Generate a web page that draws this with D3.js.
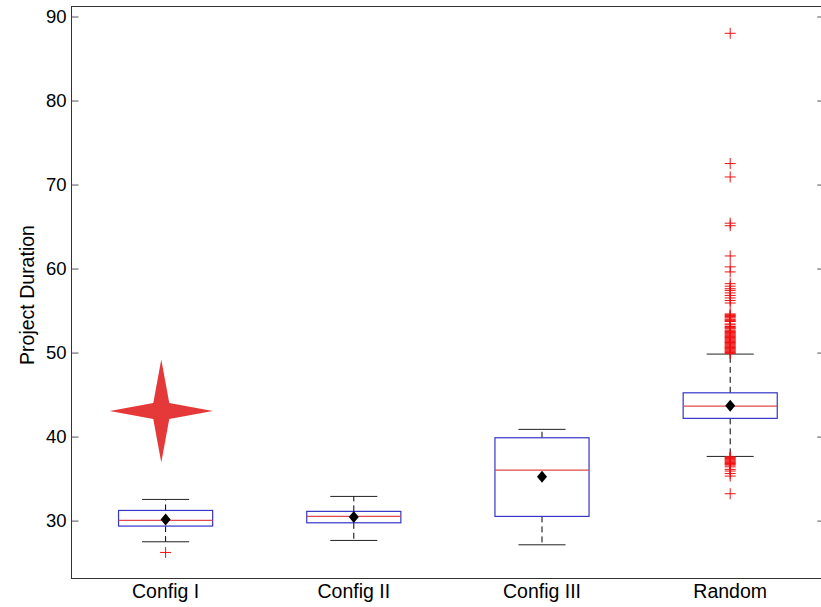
<!DOCTYPE html>
<html>
<head>
<meta charset="utf-8">
<script src="https://cdn.jsdelivr.net/npm/d3@7/dist/d3.min.js"></script>
<style>
  html, body { margin: 0; padding: 0; background: #fff; }
  svg { display: block; font-family: "Liberation Sans", Arial, sans-serif; }
</style>
</head>
<body>
<svg id="chart" width="821" height="607"></svg>
<script>
// ---- data ----
const categories = ["Config I", "Config II", "Config III", "Random"];
const whiskerLow  = [27.48, 27.64, 27.12, 37.64];
const q1          = [29.35, 29.74, 30.50, 42.17];
const medians     = [30.02, 30.50, 36.01, 43.63];
const q3          = [31.21, 31.10, 39.86, 45.21];
const whiskerHigh = [32.52, 32.88, 40.86, 49.82];
const means       = [30.14, 30.42, 35.21, 43.68];
const outliersConfigI = [26.21];
const outliersConfigII = [];
const outliersConfigIII = [];
const outliersRandom = [
  88.0, 72.5, 70.9, 65.4, 65.1, 61.5, 60.2, 59.6,
  58.2, 57.9, 57.6, 57.4, 57.1, 56.8, 56.5, 56.2, 55.9,
  54.6, 54.5, 54.4, 54.3, 54.2, 54.0, 53.9, 53.8, 53.7, 53.4, 53.3, 53.1, 53.0, 52.9, 52.8,
  52.6, 52.5, 52.4, 52.3, 52.2, 52.1, 52.0, 51.9, 51.8, 51.7, 51.6, 51.5, 51.4, 51.3, 51.2, 51.1,
  51.0, 50.9, 50.8, 50.7, 50.6, 50.5, 50.4, 50.3, 50.2, 50.1, 50.0, 49.9,
  37.6, 37.5, 37.4, 37.3, 37.2, 37.1, 37.0, 36.9, 36.8, 36.7, 36.6,
  36.4, 36.1, 35.9, 35.6, 35.3, 33.2
];
const outliers = [outliersConfigI, outliersConfigII, outliersConfigIII, outliersRandom];
const yTicks = [30, 40, 50, 60, 70, 80, 90];
const yLabel = "Project Duration";
const starMarker = { pos: 0.977, value: 43.04 };

// ---- layout ----
const svg = d3.select("#chart");
const mLeft = 71.5, mRight = 824.3, mTop = 6.5, mBottom = 578.5;
const x = d3.scaleLinear().domain([0.5, categories.length + 0.5]).range([mLeft, mRight]);
const y = d3.scaleLinear().domain([23.05, 91.25]).range([579, 6]);

const boxHalf = 0.25, capHalf = 0.125;
const blue = "#3535c8", red = "#f01010", medRed = "#e04a4a";

// frame
svg.append("rect").attr("x", mLeft).attr("y", mTop)
  .attr("width", mRight - mLeft).attr("height", mBottom - mTop)
  .attr("fill", "none").attr("stroke", "#333").attr("stroke-width", 1);

// axes
const yAxisL = d3.axisLeft(y).tickValues(yTicks).tickSize(-7).tickPadding(5).tickFormat(d3.format("d"));
const gL = svg.append("g").attr("transform", `translate(${mLeft},0)`).call(yAxisL);
gL.select(".domain").remove();
gL.selectAll(".tick line").attr("stroke", "#555");
gL.selectAll(".tick text").attr("font-size", "18.5px").attr("fill", "#000")
  .attr("font-family", "Liberation Sans, Arial, sans-serif");

const yAxisR = d3.axisRight(y).tickValues(yTicks).tickSize(-7).tickFormat("");
const gR = svg.append("g").attr("transform", `translate(${mRight},0)`).call(yAxisR);
gR.select(".domain").remove();
gR.selectAll(".tick line").attr("stroke", "#555");

// y label
svg.append("text")
  .attr("transform", `translate(34,295) rotate(-90)`)
  .attr("text-anchor", "middle")
  .attr("font-size", "19.5px")
  .attr("fill", "#000")
  .text(yLabel);

// category labels
svg.append("g").selectAll("text").data(categories).join("text")
  .attr("x", (d, i) => x(i + 1))
  .attr("y", 598)
  .attr("text-anchor", "middle")
  .attr("font-size", "19.5px")
  .attr("fill", "#000")
  .text(d => d);

// boxes
const g = svg.append("g");
categories.forEach((c, i) => {
  const cx = x(i + 1);
  const grp = g.append("g");
  grp.append("line").attr("x1", cx).attr("x2", cx)
    .attr("y1", y(q3[i])).attr("y2", y(whiskerHigh[i]))
    .attr("stroke", "#000").attr("stroke-dasharray", "6,4");
  grp.append("line").attr("x1", cx).attr("x2", cx)
    .attr("y1", y(q1[i])).attr("y2", y(whiskerLow[i]))
    .attr("stroke", "#000").attr("stroke-dasharray", "6,4");
  [whiskerHigh[i], whiskerLow[i]].forEach(v => {
    grp.append("line")
      .attr("x1", x(i + 1 - capHalf)).attr("x2", x(i + 1 + capHalf))
      .attr("y1", y(v)).attr("y2", y(v))
      .attr("stroke", "#222");
  });
  outliers[i].forEach(v => {
    const py = y(v);
    grp.append("path")
      .attr("d", `M${cx - 5.5},${py}H${cx + 5.5}M${cx},${py - 5.5}V${py + 5.5}`)
      .attr("stroke", red).attr("stroke-width", 1).attr("fill", "none");
  });
  grp.append("rect")
    .attr("x", x(i + 1 - boxHalf)).attr("width", x(i + 1 + boxHalf) - x(i + 1 - boxHalf))
    .attr("y", y(q3[i])).attr("height", y(q1[i]) - y(q3[i]))
    .attr("fill", "none").attr("stroke", blue).attr("stroke-width", 1.2);
  grp.append("line")
    .attr("x1", x(i + 1 - boxHalf)).attr("x2", x(i + 1 + boxHalf))
    .attr("y1", y(medians[i])).attr("y2", y(medians[i]))
    .attr("stroke", medRed).attr("stroke-width", 1.2);
  const my = y(means[i]);
  grp.append("path")
    .attr("d", `M${cx},${my - 6}L${cx + 5},${my}L${cx},${my + 6}L${cx - 5},${my}Z`)
    .attr("fill", "#000");
});

// decorative four-pointed star
const sx = x(starMarker.pos), sy = y(starMarker.value);
const R = 51.5, w = 8;
svg.append("path")
  .attr("d", `M${sx},${sy - R}L${sx + w},${sy - w}L${sx + R},${sy}L${sx + w},${sy + w}L${sx},${sy + R}L${sx - w},${sy + w}L${sx - R},${sy}L${sx - w},${sy - w}Z`)
  .attr("fill", "#e53838");
</script>
</body>
</html>
